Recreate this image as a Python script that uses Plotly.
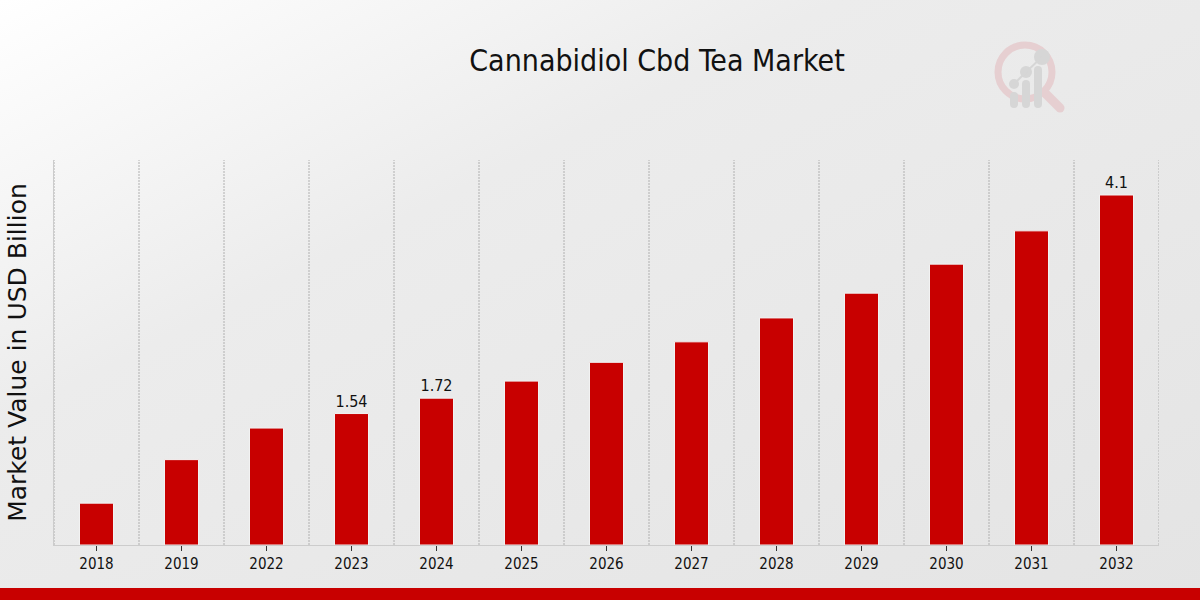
import base64
import plotly.graph_objects as go

categories = ["2018", "2019", "2022", "2023", "2024", "2025", "2026",
              "2027", "2028", "2029", "2030", "2031", "2032"]
values = [0.49, 1.0, 1.37, 1.54, 1.72, 1.92, 2.14, 2.38, 2.66, 2.95, 3.29, 3.68, 4.1]
labelled = {"2023", "2024", "2032"}
labels = [str(v) if c in labelled else "" for c, v in zip(categories, values)]

bg_svg = """<svg xmlns='http://www.w3.org/2000/svg' width='1200' height='600'>
<defs><linearGradient id='g' x1='0' y1='0' x2='1' y2='1'>
<stop offset='0' stop-color='#ffffff'/><stop offset='0.35' stop-color='#ececec'/>
<stop offset='1' stop-color='#e4e4e4'/></linearGradient></defs>
<rect width='1200' height='600' fill='url(#g)'/></svg>"""
logo_svg = """<svg xmlns='http://www.w3.org/2000/svg' width='100' height='100'>
<circle cx='45' cy='50' r='27' fill='none' stroke='#e6cfd1' stroke-width='7'/>
<line x1='66' y1='72' x2='80' y2='86' stroke='#e6cfd1' stroke-width='9' stroke-linecap='round'/>
<rect x='30' y='70' width='8' height='16' rx='4' fill='#d6d6d6'/>
<rect x='42' y='58' width='8' height='28' rx='4' fill='#d6d6d6'/>
<rect x='54' y='44' width='8' height='42' rx='4' fill='#d6d6d6'/>
<circle cx='34' cy='62' r='5' fill='#d6d6d6'/>
<circle cx='46' cy='50' r='6' fill='#d6d6d6'/>
<circle cx='62' cy='35' r='8' fill='#d6d6d6'/>
<line x1='34' y1='62' x2='46' y2='50' stroke='#d6d6d6' stroke-width='2'/>
<line x1='46' y1='50' x2='62' y2='35' stroke='#d6d6d6' stroke-width='2'/>
</svg>"""

def uri(s):
    return "data:image/svg+xml;base64," + base64.b64encode(s.encode()).decode()

fig = go.Figure()
fig.add_trace(go.Bar(
    x=categories, y=values, width=0.4,
    marker=dict(color="#c80000", line=dict(color="#f2f2f2", width=1)),
    text=labels, textposition="outside", cliponaxis=False,
    textfont=dict(family="DejaVu Sans Condensed", size=16, color="#111111"),
))

shapes = []
for i in range(len(categories) + 1):
    shapes.append(dict(type="line", xref="x", yref="paper", x0=i - 0.5, x1=i - 0.5,
                       y0=0, y1=1, line=dict(color="#b0b0b0", width=1, dash="2px,1px"),
                       layer="below"))
shapes.append(dict(type="rect", xref="paper", yref="paper", x0=-0.1, x1=1.1,
                   y0=-(588 - 545) / 385, y1=-(600 - 545) / 385 - 0.01,
                   fillcolor="#c80000", line=dict(width=0)))

fig.update_layout(
    width=1200, height=600,
    margin=dict(l=54, r=41, t=160, b=55),
    paper_bgcolor="#e8e8e8", plot_bgcolor="rgba(0,0,0,0)",
    showlegend=False,
    title=dict(text="Cannabidiol Cbd Tea Market", x=0.5475, xanchor="center",
               y=0.9, yanchor="middle",
               font=dict(family="DejaVu Sans Condensed", size=30, color="#111111")),
    xaxis=dict(type="category", range=[-0.5, len(categories) - 0.5],
               showgrid=False, showline=True, linecolor="#cccccc", linewidth=1,
               ticks="outside", ticklen=5, tickcolor="#333333",
               tickfont=dict(family="DejaVu Sans Condensed", size=15, color="#111111")),
    yaxis=dict(range=[0, 4.51], showgrid=False, showticklabels=False, zeroline=False,
               showline=True, linecolor="#cccccc", linewidth=1,
               title=dict(text="Market Value in USD Billion", standoff=19,
                          font=dict(family="DejaVu Sans", size=25, color="#111111"))),
    shapes=shapes,
    images=[
        dict(source=uri(bg_svg), xref="paper", yref="paper", x=-54 / 1105, y=1 + 160 / 385,
             sizex=1200 / 1105, sizey=600 / 385, xanchor="left", yanchor="top",
             sizing="stretch", layer="below"),
        dict(source=uri(logo_svg), xref="paper", yref="paper", x=(980 - 54) / 1105,
             y=1 + (160 - 22) / 385, sizex=100 / 1105, sizey=100 / 385,
             xanchor="left", yanchor="top", sizing="stretch", layer="below"),
    ],
)
fig.write_html("out.html", config={"displayModeBar": False},
               post_script="document.body.style.margin='0';document.body.style.overflow='hidden';")
